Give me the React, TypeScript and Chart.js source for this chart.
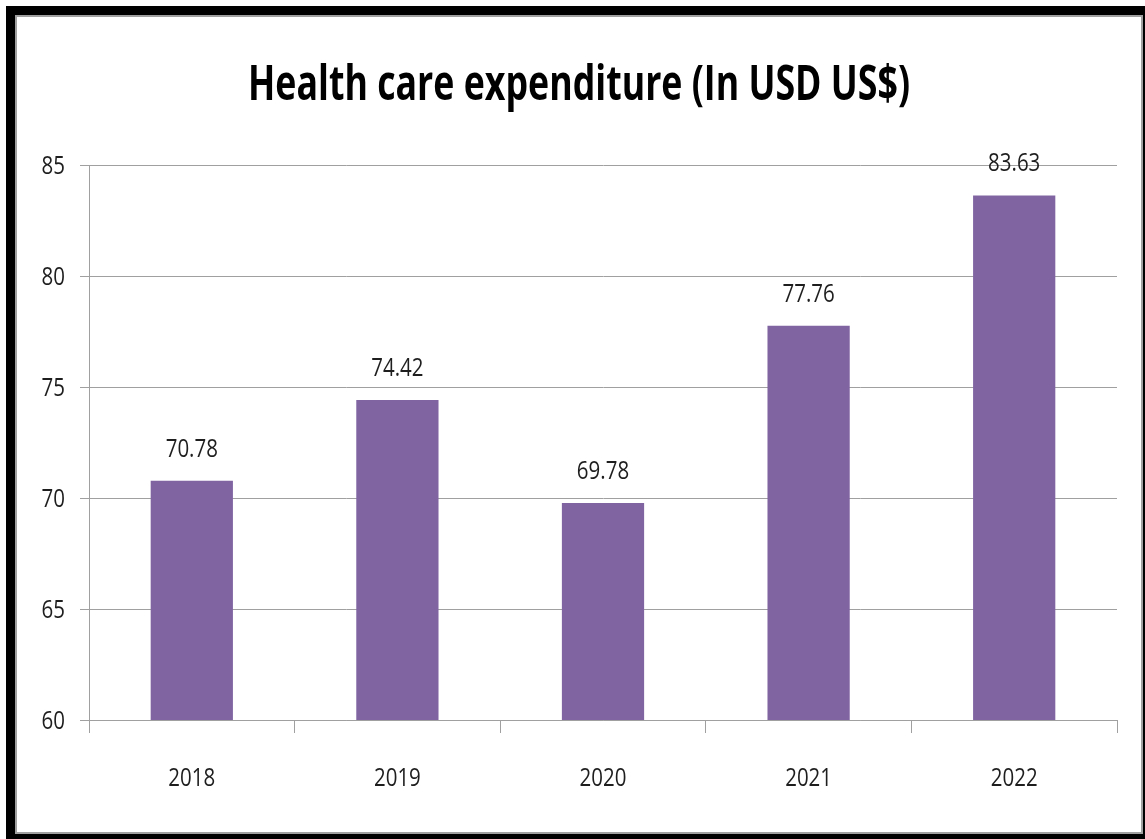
import React, { useEffect, useRef } from "react";
import { Chart, registerables } from "chart.js";

Chart.register(...registerables);

const categories: string[] = ["2018", "2019", "2020", "2021", "2022"];
const expenditure: number[] = [70.78, 74.42, 69.78, 77.76, 83.63];
const valueLabels: string[] = ["70.78", "74.42", "69.78", "77.76", "83.63"];
const chartTitle = "Health care expenditure (In USD US$)";
const yMin = 60;
const yMax = 85;
const yStep = 5;

const FONT = "'Open Sans', 'Noto Sans', sans-serif";
const TEXT_SCALE = 0.82;
const TITLE_WIDTH = 662;

function drawNarrow(
  ctx: CanvasRenderingContext2D,
  text: string,
  x: number,
  y: number,
  align: CanvasTextAlign,
  sx: number
) {
  ctx.save();
  ctx.translate(x, y);
  ctx.scale(sx, 1);
  ctx.textAlign = align;
  ctx.textBaseline = "alphabetic";
  ctx.fillText(text, 0, 0);
  ctx.restore();
}

const textPlugin = {
  id: "narrowText",
  afterDraw(chart: any) {
    const ctx: CanvasRenderingContext2D = chart.ctx;
    const area = chart.chartArea;
    const xs = chart.scales.x;
    const ys = chart.scales.y;
    ctx.save();

    // title
    ctx.font = `bold 49px ${FONT}`;
    ctx.fillStyle = "#000000";
    const tw = ctx.measureText(chartTitle).width;
    drawNarrow(ctx, chartTitle, chart.width / 2, 83, "center", TITLE_WIDTH / tw);

    ctx.font = `25px ${FONT}`;
    ctx.fillStyle = "#1e1e1e";

    // y tick labels
    ys.ticks.forEach((t: any) => {
      const py = ys.getPixelForValue(t.value);
      drawNarrow(ctx, String(t.value), ys.right - 24, py + 9, "right", TEXT_SCALE);
    });

    // x tick labels
    categories.forEach((c, i) => {
      const px = xs.getPixelForTick(i);
      drawNarrow(ctx, c, px, area.bottom + 66, "center", TEXT_SCALE);
    });

    // value labels
    const meta = chart.getDatasetMeta(0);
    meta.data.forEach((bar: any, i: number) => {
      drawNarrow(ctx, valueLabels[i], bar.x, bar.y - 24, "center", TEXT_SCALE);
    });

    ctx.restore();
  },
};

export default function App() {
  const canvasRef = useRef<HTMLCanvasElement | null>(null);

  useEffect(() => {
    if (!canvasRef.current) return;
    const chart = new Chart(canvasRef.current, {
      type: "bar",
      data: {
        labels: categories,
        datasets: [
          {
            data: expenditure,
            backgroundColor: "#8064A2",
            borderWidth: 0,
            barPercentage: 0.4,
            categoryPercentage: 1,
          },
        ],
      },
      options: {
        animation: false,
        responsive: false,
        maintainAspectRatio: false,
        layout: { padding: { left: 0, right: 24, top: 148, bottom: 0 } },
        plugins: {
          legend: { display: false },
          tooltip: { enabled: false },
          title: { display: false },
        },
        scales: {
          x: {
            grid: {
              display: true,
              drawOnChartArea: false,
              drawTicks: true,
              tickLength: 13,
              color: "#a0a0a0",
              offset: true,
            },
            border: { display: true, color: "#a0a0a0", width: 1 },
            ticks: { display: false },
            afterFit(scale: any) {
              scale.height = 112;
            },
          },
          y: {
            min: yMin,
            max: yMax,
            grid: {
              color: "#a0a0a0",
              drawTicks: true,
              tickLength: 9,
            },
            border: { display: true, color: "#a0a0a0", width: 1 },
            ticks: { display: false, stepSize: yStep },
            afterFit(scale: any) {
              scale.width = 72;
            },
          },
        },
      },
      plugins: [textPlugin],
    });
    return () => chart.destroy();
  }, []);

  return (
    <div
      style={{
        position: "fixed",
        left: 6,
        top: 6,
        right: 0,
        bottom: 0,
        boxSizing: "border-box",
        borderLeft: "9px solid #000",
        borderTop: "9px solid #000",
        borderRight: "2px solid #000",
        borderBottom: "5px solid #000",
        background: "#fff",
      }}
    >
      <div
        style={{
          boxSizing: "border-box",
          width: "100%",
          height: "100%",
          border: "2px solid #a0a0a0",
          background: "#fff",
        }}
      >
        <canvas ref={canvasRef} width={1124} height={815} style={{ display: "block" }} />
      </div>
    </div>
  );
}
